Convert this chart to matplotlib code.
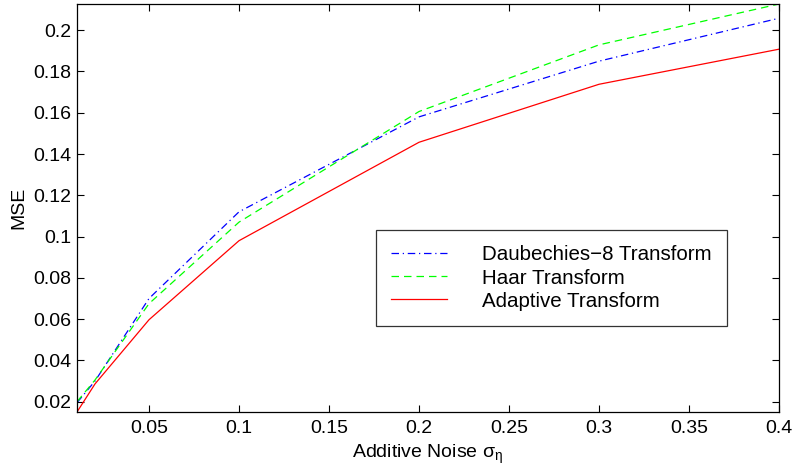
import matplotlib
matplotlib.use("Agg")
import matplotlib.pyplot as plt

plt.rcParams['font.family'] = ['Liberation Sans', 'DejaVu Sans']

noise = [0.01, 0.02, 0.05, 0.1, 0.2, 0.3, 0.4]
mse_db8 = [0.0195, 0.0300, 0.0700, 0.1120, 0.1580, 0.1850, 0.2058]
mse_haar = [0.0200, 0.0305, 0.0675, 0.1070, 0.1606, 0.1929, 0.2127]
mse_adaptive = [0.0150, 0.0286, 0.0597, 0.0980, 0.1457, 0.1738, 0.1908]

xticks = [0.05, 0.1, 0.15, 0.2, 0.25, 0.3, 0.35, 0.4]
xtick_labels = ['0.05', '0.1', '0.15', '0.2', '0.25', '0.3', '0.35', '0.4']
yticks = [0.02, 0.04, 0.06, 0.08, 0.1, 0.12, 0.14, 0.16, 0.18, 0.2]
ytick_labels = ['0.02', '0.04', '0.06', '0.08', '0.1', '0.12', '0.14', '0.16', '0.18', '0.2']

fig = plt.figure(figsize=(7.95, 4.69), dpi=100)
ax = fig.add_axes([77/795, 57/469, (779-77)/795, (412-4)/469])

ax.plot(noise, mse_db8, color='#0000ff', linestyle=(0, (6, 3, 1, 3)), linewidth=0.9,
        label='Daubechies\u22128 Transform')
ax.plot(noise, mse_haar, color='#00ff00', linestyle=(0, (6, 4)), linewidth=0.9,
        label='Haar Transform')
ax.plot(noise, mse_adaptive, color='#ff0000', linestyle='-', linewidth=0.9,
        label='Adaptive Transform')

ax.set_xlim(0.01, 0.4)
ax.set_ylim(0.015, 0.2127)
ax.set_xticks(xticks)
ax.set_xticklabels(xtick_labels)
ax.set_yticks(yticks)
ax.set_yticklabels(ytick_labels)
ax.tick_params(direction='in', top=True, right=True, length=5, width=0.8,
               labelsize=14)
ax.tick_params(axis='x', pad=6)
ax.tick_params(axis='y', pad=4)
for s in ax.spines.values():
    s.set_linewidth(0.9)

ax.set_xlabel('Additive Noise $\\mathregular{\\sigma_\\eta}$', fontsize=14, labelpad=4)
ax.set_ylabel('MSE', fontsize=14, labelpad=4)

leg = ax.legend(loc='upper left', bbox_to_anchor=((376-77)/702, (412-230)/408),
                fontsize=14.8, frameon=True, fancybox=False, edgecolor='black',
                handlelength=2.7, handletextpad=1.7, borderpad=0.75, labelspacing=0.2,
                borderaxespad=0)
leg.get_frame().set_linewidth(0.9)

fig.savefig('out.png', dpi=100)
